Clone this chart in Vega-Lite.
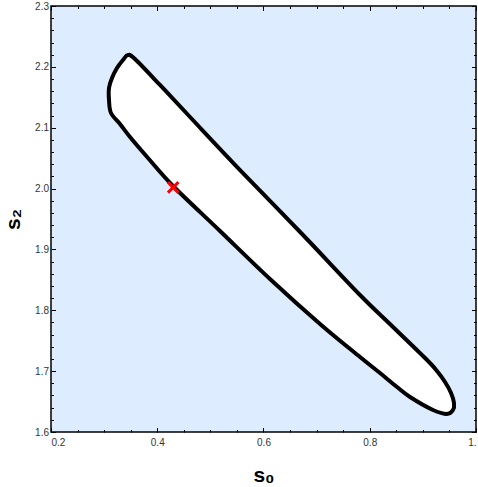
{
  "$schema": "https://vega.github.io/schema/vega-lite/v6.json",
  "width": 425,
  "height": 426,
  "autosize": "none",
  "padding": {"left": 51, "top": 6, "right": 2, "bottom": 55},
  "background": "white",
  "config": {
    "view": {"fill": "#ddecfe", "stroke": "black", "strokeWidth": 1.5},
    "axis": {
      "labelFont": "Liberation Sans",
      "labelFontSize": 10,
      "labelColor": "#333333",
      "tickColor": "black",
      "tickWidth": 1,
      "domain": false,
      "grid": false,
      "titleFont": "Liberation Sans",
      "titleFontSize": 21,
      "titleFontWeight": "bold",
      "titleColor": "black"
    }
  },
  "datasets": {
    "contour": [
      {"i": 1, "s0": 0.3449, "s2": 2.2195},
      {"i": 2, "s0": 0.3581, "s2": 2.2129},
      {"i": 3, "s0": 0.4052, "s2": 2.1702},
      {"i": 4, "s0": 0.4617, "s2": 2.1176},
      {"i": 5, "s0": 0.5558, "s2": 2.0305},
      {"i": 6, "s0": 0.6744, "s2": 1.9237},
      {"i": 7, "s0": 0.7817, "s2": 1.8251},
      {"i": 8, "s0": 0.8438, "s2": 1.7725},
      {"i": 9, "s0": 0.9078, "s2": 1.7183},
      {"i": 10, "s0": 0.9266, "s2": 1.7002},
      {"i": 11, "s0": 0.9417, "s2": 1.6822},
      {"i": 12, "s0": 0.953, "s2": 1.6641},
      {"i": 13, "s0": 0.9586, "s2": 1.6477},
      {"i": 14, "s0": 0.9567, "s2": 1.6361},
      {"i": 15, "s0": 0.9454, "s2": 1.6296},
      {"i": 16, "s0": 0.9191, "s2": 1.6361},
      {"i": 17, "s0": 0.8758, "s2": 1.6575},
      {"i": 18, "s0": 0.8513, "s2": 1.6739},
      {"i": 19, "s0": 0.8193, "s2": 1.6969},
      {"i": 20, "s0": 0.7817, "s2": 1.7232},
      {"i": 21, "s0": 0.7064, "s2": 1.7775},
      {"i": 22, "s0": 0.6122, "s2": 1.8514},
      {"i": 23, "s0": 0.5181, "s2": 1.9303},
      {"i": 24, "s0": 0.4297, "s2": 2.0042},
      {"i": 25, "s0": 0.3826, "s2": 2.0502},
      {"i": 26, "s0": 0.3487, "s2": 2.0847},
      {"i": 27, "s0": 0.3299, "s2": 2.1061},
      {"i": 28, "s0": 0.3129, "s2": 2.1242},
      {"i": 29, "s0": 0.3092, "s2": 2.1455},
      {"i": 30, "s0": 0.3092, "s2": 2.1653},
      {"i": 31, "s0": 0.3148, "s2": 2.1817},
      {"i": 32, "s0": 0.3242, "s2": 2.1981},
      {"i": 33, "s0": 0.3355, "s2": 2.2113}
    ],
    "marker": [{"s0": 0.43, "s2": 2.002}]
  },
  "resolve": {"axis": {"x": "independent", "y": "independent"}},
  "layer": [
    {
      "data": {"name": "contour"},
      "mark": {"type": "point", "opacity": 0},
      "encoding": {
        "x": {"field": "s0", "type": "quantitative", "scale": {"domain": [0.2, 1.0], "nice": false, "zero": false},
          "axis": {"orient": "top", "values": [0.25, 0.3, 0.35, 0.45, 0.5, 0.55, 0.65, 0.7, 0.75, 0.85, 0.9, 0.95], "tickSize": -2.5, "labels": false, "title": null}},
        "y": {"field": "s2", "type": "quantitative", "scale": {"domain": [1.6, 2.3], "nice": false, "zero": false},
          "axis": {"orient": "right", "values": [1.62, 1.64, 1.66, 1.68, 1.72, 1.74, 1.76, 1.78, 1.82, 1.84, 1.86, 1.88, 1.92, 1.94, 1.96, 1.98, 2.02, 2.04, 2.06, 2.08, 2.12, 2.14, 2.16, 2.18, 2.22, 2.24, 2.26, 2.28], "tickSize": -2.5, "labels": false, "title": null}}
      }
    },
    {
      "data": {"name": "contour"},
      "mark": {"type": "point", "opacity": 0},
      "encoding": {
        "x": {"field": "s0", "type": "quantitative",
          "axis": {"orient": "top", "values": [0.2, 0.4, 0.6, 0.8, 1.0], "tickSize": -4.5, "labels": false, "title": null}},
        "y": {"field": "s2", "type": "quantitative",
          "axis": {"orient": "right", "values": [1.6, 1.7, 1.8, 1.9, 2.0, 2.1, 2.2, 2.3], "tickSize": -4.5, "labels": false, "title": null}}
      }
    },
    {
      "data": {"name": "contour"},
      "mark": {"type": "point", "opacity": 0},
      "encoding": {
        "x": {"field": "s0", "type": "quantitative",
          "axis": {"orient": "bottom", "values": [0.25, 0.3, 0.35, 0.45, 0.5, 0.55, 0.65, 0.7, 0.75, 0.85, 0.9, 0.95], "tickSize": -2.5, "labels": false, "title": null}},
        "y": {"field": "s2", "type": "quantitative",
          "axis": {"orient": "left", "values": [1.62, 1.64, 1.66, 1.68, 1.72, 1.74, 1.76, 1.78, 1.82, 1.84, 1.86, 1.88, 1.92, 1.94, 1.96, 1.98, 2.02, 2.04, 2.06, 2.08, 2.12, 2.14, 2.16, 2.18, 2.22, 2.24, 2.26, 2.28], "tickSize": -2.5, "labels": false, "title": null}}
      }
    },
    {
      "data": {"name": "contour"},
      "mark": {"type": "line", "interpolate": "cardinal-closed", "tension": 0, "fill": "white", "stroke": "black", "strokeWidth": 4, "strokeJoin": "round"},
      "encoding": {
        "x": {"field": "s0", "type": "quantitative",
          "axis": {"orient": "bottom", "values": [0.2, 0.4, 0.6, 0.8, 1.0], "tickSize": -4.5, "labelPadding": 10,
            "labelExpr": "datum.value == 1 ? '1.' : format(datum.value, '.1f')", "title": "s₀", "titlePadding": 17}},
        "y": {"field": "s2", "type": "quantitative",
          "axis": {"orient": "left", "values": [1.6, 1.7, 1.8, 1.9, 2.0, 2.1, 2.2, 2.3], "tickSize": -4.5, "labelPadding": 7,
            "labelExpr": "format(datum.value, '.1f')", "title": "s₂", "titlePadding": 11}},
        "order": {"field": "i", "type": "quantitative"}
      }
    },
    {
      "data": {"name": "marker"},
      "mark": {"type": "point", "shape": "M-1,-1L1,1M-1,1L1,-1", "filled": false, "stroke": "red", "strokeWidth": 3, "size": 110, "opacity": 1},
      "encoding": {
        "x": {"field": "s0", "type": "quantitative", "axis": null},
        "y": {"field": "s2", "type": "quantitative", "axis": null}
      }
    }
  ]
}
